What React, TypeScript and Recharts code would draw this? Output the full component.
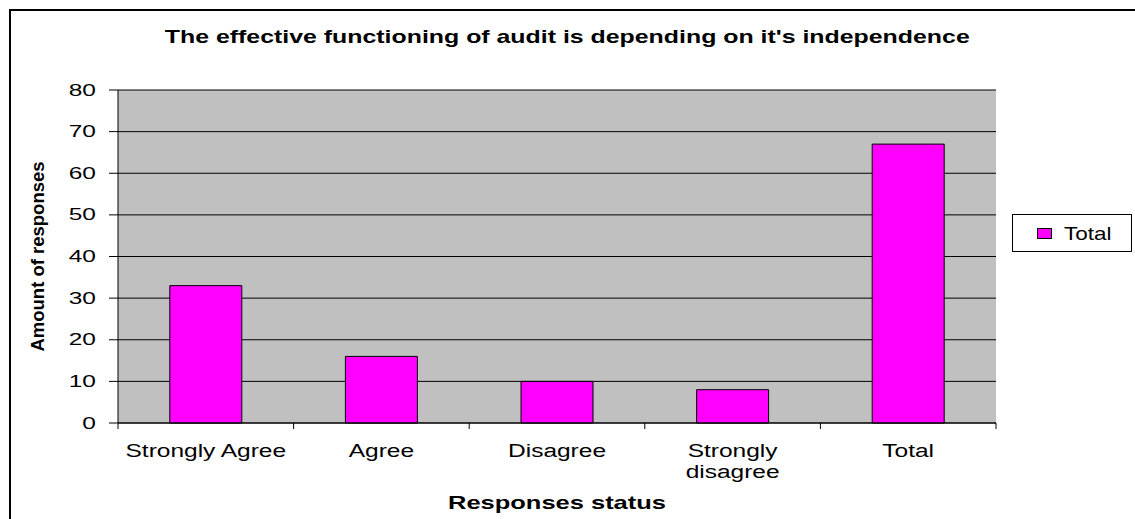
import React from 'react';
import { BarChart, Bar, XAxis, YAxis, CartesianGrid, Legend, Label } from 'recharts';

const categories = ['Strongly Agree', 'Agree', 'Disagree', 'Strongly disagree', 'Total'];
const totals = [33, 16, 10, 8, 67];
const yTicks = [0, 10, 20, 30, 40, 50, 60, 70, 80];
const SERIES_NAME = 'Total';
const TITLE = "The effective functioning of audit is depending on it's independence";
const X_TITLE = 'Responses status';
const Y_TITLE = 'Amount of responses';

const data = categories.map((name, i) => ({ name, value: totals[i] }));

const FONT = '"Liberation Sans", Arial, Helvetica, sans-serif';
const MAGENTA = '#FF00FF';

function wrap(label: string, maxChars = 14): string[] {
  const words = label.split(' ');
  const lines: string[] = [];
  let cur = '';
  for (const w of words) {
    const next = cur ? cur + ' ' + w : w;
    if (next.length > maxChars && cur) {
      lines.push(cur);
      cur = w;
    } else cur = next;
  }
  if (cur) lines.push(cur);
  return lines;
}

const XTick = (props: any) => {
  const { x, y, payload, index } = props;
  const off = payload && payload.offset ? payload.offset : 0;
  const lines = wrap(String(payload.value));
  return (
    <g>
      <line x1={x - off} x2={x - off} y1={y} y2={y + 6} stroke="#000" strokeWidth={1} />
      {index === categories.length - 1 && (
        <line x1={x + off} x2={x + off} y1={y} y2={y + 6} stroke="#000" strokeWidth={1} />
      )}
      {lines.map((l, i) => (
        <text
          key={i}
          transform={`translate(${x},${y + 33.5 + i * 21.5}) scale(1.29,1)`}
          textAnchor="middle"
          fontFamily={FONT}
          fontSize={19}
          fill="#000"
        >
          {l}
        </text>
      ))}
    </g>
  );
};

const YTick = (props: any) => {
  const { x, y, payload } = props;
  return (
    <text
      transform={`translate(${x},${y + 5.6}) scale(1.55,1)`}
      textAnchor="end"
      fontFamily={FONT}
      fontSize={15.8}
      fill="#000"
    >
      {payload.value}
    </text>
  );
};

const LegendContent = (props: any) => {
  const item = props.payload && props.payload[0];
  const color = item ? item.color : MAGENTA;
  const label = item ? item.value : SERIES_NAME;
  return (
    <div
      style={{
        position: 'relative',
        width: 120,
        height: 38,
        boxSizing: 'border-box',
        border: '1.5px solid #000',
        background: '#fff',
      }}
    >
      <div
        style={{
          position: 'absolute',
          left: 23.5,
          top: 12.5,
          width: 15,
          height: 11,
          boxSizing: 'border-box',
          border: '1px solid #000',
          background: color,
        }}
      />
      <span
        style={{
          position: 'absolute',
          left: 51,
          top: 9.5,
          fontFamily: FONT,
          fontSize: 18.6,
          lineHeight: '18.6px',
          whiteSpace: 'nowrap',
          color: '#000',
          transform: 'scaleX(1.21)',
          transformOrigin: 'left center',
        }}
      >
        {label}
      </span>
    </div>
  );
};

export default function App() {
  return (
    <div
      style={{
        position: 'absolute',
        left: 0,
        top: 0,
        width: 1135,
        height: 519,
        overflow: 'hidden',
        background: '#fff',
      }}
    >
      <div
        style={{
          position: 'absolute',
          left: 9,
          top: 9,
          width: 1300,
          height: 700,
          border: '2px solid #000',
        }}
      />
      <BarChart
        width={1135}
        height={519}
        data={data}
        margin={{ top: 90, right: 139, bottom: 0, left: 0 }}
        barCategoryGap="29.5%"
      >
        <CartesianGrid
          xAxisId="cat"
          yAxisId="l"
          vertical={false}
          stroke="#000"
          strokeWidth={1}
          fill="#C0C0C0"
          fillOpacity={1}
        />
        <XAxis
          xAxisId="cat"
          dataKey="name"
          height={96}
          interval={0}
          tickLine={false}
          tickSize={0}
          tickMargin={0}
          axisLine={{ stroke: '#000', strokeWidth: 1.2 }}
          tick={<XTick />}
        >
          <Label
            content={(p: any) => {
              const vb = p.viewBox || { x: 118, y: 423, width: 878, height: 96 };
              const cx = vb.x + vb.width / 2;
              const by = vb.y + 86;
              return (
                <text
                  transform={`translate(${cx},${by}) scale(1.37,1)`}
                  textAnchor="middle"
                  fontFamily={FONT}
                  fontSize={18.6}
                  fontWeight="bold"
                  fill="#000"
                >
                  {X_TITLE}
                </text>
              );
            }}
          />
        </XAxis>
        <YAxis
          yAxisId="l"
          width={118}
          domain={[0, 80]}
          ticks={yTicks}
          interval={0}
          tickSize={9}
          tickMargin={13}
          tickLine={{ stroke: '#000', strokeWidth: 1 }}
          axisLine={{ stroke: '#000', strokeWidth: 1 }}
          tick={<YTick />}
        >
          <Label
            content={(p: any) => {
              const vb = p.viewBox || { x: 0, y: 90, width: 118, height: 333 };
              const cx = vb.x + 44;
              const cy = vb.y + vb.height / 2;
              return (
                <text
                  x={cx}
                  y={cy}
                  transform={`rotate(-90, ${cx}, ${cy})`}
                  textAnchor="middle"
                  fontFamily={FONT}
                  fontSize={18.5}
                  fontWeight="bold"
                  fill="#000"
                >
                  {Y_TITLE}
                </text>
              );
            }}
          />
        </YAxis>
        <YAxis
          yAxisId="r"
          orientation="right"
          width={0}
          domain={[0, 80]}
          tick={false}
          tickLine={false}
          axisLine={{ stroke: '#808080', strokeWidth: 1.5 }}
        />
        <Bar
          xAxisId="cat"
          yAxisId="l"
          dataKey="value"
          name={SERIES_NAME}
          fill={MAGENTA}
          stroke="#000"
          strokeWidth={1}
          isAnimationActive={false}
        />
        <Legend
          layout="horizontal"
          verticalAlign="middle"
          align="center"
          wrapperStyle={{ left: 1012, top: 214, width: 120, height: 38 }}
          content={<LegendContent />}
        />
      </BarChart>
      <div
        style={{
          position: 'absolute',
          left: 0,
          top: 27.6,
          width: 1134,
          textAlign: 'center',
          fontFamily: FONT,
          fontSize: 18.5,
          lineHeight: '18.5px',
          fontWeight: 'bold',
          color: '#000',
          whiteSpace: 'nowrap',
        }}
      >
        <span style={{ display: 'inline-block', transform: 'scaleX(1.345)' }}>{TITLE}</span>
      </div>
    </div>
  );
}
